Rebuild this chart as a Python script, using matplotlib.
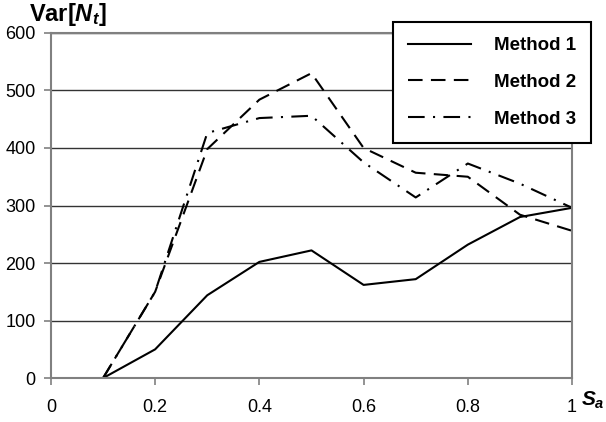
import matplotlib
matplotlib.use("Agg")
import matplotlib.pyplot as plt

plt.rcParams["font.family"] = "Liberation Sans"
plt.rcParams["mathtext.fontset"] = "custom"
plt.rcParams["mathtext.rm"] = "Liberation Sans:bold"
plt.rcParams["mathtext.it"] = "Liberation Sans:bold:italic"
plt.rcParams["mathtext.bf"] = "Liberation Sans:bold"

# data
sa = [0.1, 0.2, 0.3, 0.4, 0.5, 0.6, 0.7, 0.8, 0.9, 1.0]
method1 = [0, 50, 144, 202, 222, 162, 172, 232, 280, 296]
method2 = [0, 150, 398, 484, 530, 400, 357, 350, 284, 256]
method3 = [0, 150, 426, 452, 456, 375, 314, 373, 338, 296]

xticks = [0, 0.2, 0.4, 0.6, 0.8, 1]
xtick_labels = ["0", "0.2", "0.4", "0.6", "0.8", "1"]
yticks = [0, 100, 200, 300, 400, 500, 600]

fig = plt.figure(figsize=(6.06, 4.22), dpi=100)
ax = fig.add_axes([0.084, 0.104, 0.86, 0.818])

ax.plot(sa, method1, color="black", linewidth=1.5, label="Method 1")
ax.plot(sa, method2, color="black", linewidth=1.5, dashes=(7, 4), label="Method 2")
ax.plot(sa, method3, color="black", linewidth=1.5, dashes=(8, 4, 1, 4), label="Method 3")

ax.set_xlim(0, 1)
ax.set_ylim(0, 600)
ax.set_xticks(xticks)
ax.set_xticklabels(xtick_labels)
ax.set_yticks(yticks)
ax.tick_params(labelsize=13, color="#808080", length=5, width=1.2)
ax.tick_params(axis="x", pad=10)
ax.tick_params(axis="y", pad=6)
ax.yaxis.grid(True, color="#333333", linewidth=1)
ax.set_axisbelow(True)
for s in ax.spines.values():
    s.set_color("#808080")
    s.set_linewidth(1.5)

leg = fig.legend(loc="upper left", bbox_to_anchor=(0.648, 0.948), frameon=True,
                 fancybox=False, handlelength=3.4, handletextpad=1.2,
                 borderpad=0.8, labelspacing=1.05, borderaxespad=0,
                 prop={"weight": "bold", "size": 13.5})
leg.get_frame().set_edgecolor("black")
leg.get_frame().set_linewidth(1.5)
leg.get_frame().set_alpha(1)

fig.text(0.048, 0.965, r"$\mathrm{Var}[N_t]$", fontsize=17, va="center", ha="left")
fig.text(0.959, 0.052, r"$S_a$", fontsize=15, va="center", ha="left")

fig.savefig("out.png", dpi=100)
